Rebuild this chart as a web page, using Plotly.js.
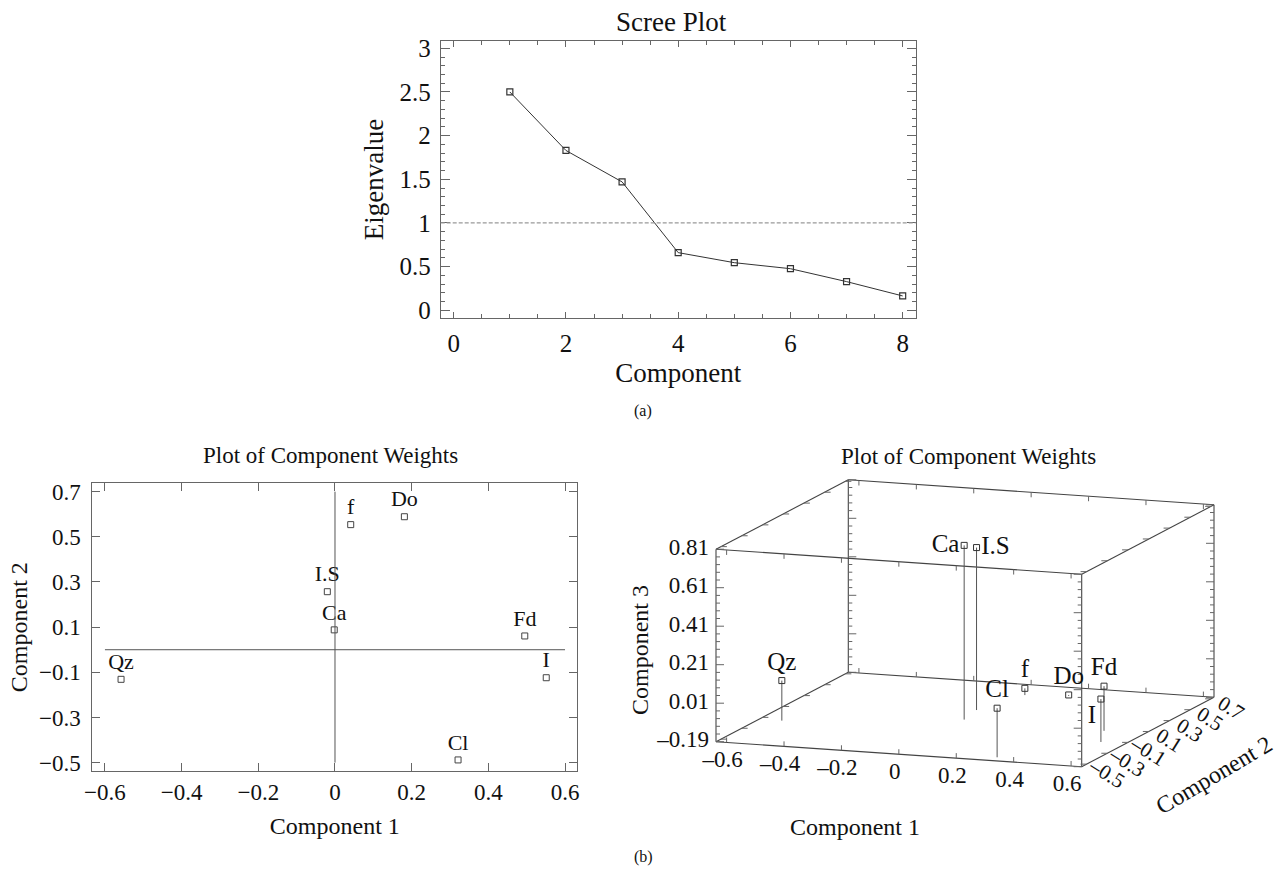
<!DOCTYPE html>
<html>
<head>
<meta charset="utf-8">
<script src="https://cdn.plot.ly/plotly-3.0.1.min.js"></script>
<style>html,body{margin:0;padding:0;background:#fff;}#chart{width:1281px;height:885px;}</style>
</head>
<body>
<div id="chart"></div>
<script>
// ---------------- Data ----------------
const components = [1, 2, 3, 4, 5, 6, 7, 8];
const eigenvalues = [2.50, 1.83, 1.47, 0.66, 0.545, 0.476, 0.328, 0.164];
const kaiserLevel = 1;

const variables = ['Qz', 'I.S', 'Ca', 'f', 'Do', 'Fd', 'I', 'Cl'];
const comp1 = [-0.558, -0.020, -0.002, 0.041, 0.181, 0.495, 0.551, 0.321];
const comp2 = [-0.131, 0.257, 0.088, 0.554, 0.589, 0.061, -0.124, -0.488];
const comp3 = [0.018, 0.654, 0.715, -0.155, -0.185, 0.042, 0.033, 0.065];
const labelPos3d = ['top center', 'middle right', 'middle left', 'top center', 'top center', 'top center', 'bottom left', 'top center'];

const screeXTicks = [0, 2, 4, 6, 8];
const screeYTicks = [0, 0.5, 1, 1.5, 2, 2.5, 3];
const c1Ticks = [-0.6, -0.4, -0.2, 0, 0.2, 0.4, 0.6];
const c2Ticks = [-0.5, -0.3, -0.1, 0.1, 0.3, 0.5, 0.7];
const c3Ticks = [-0.19, 0.01, 0.21, 0.41, 0.61, 0.81];

// ---------------- Style ----------------
const FONT = 'Liberation Serif, Times New Roman, serif';
const INK = '#333';
const FRAME = '#666';

// ---------------- 3D box (oblique projection onto a hidden 2D axis pair) ----------------
const R1 = [-0.637, 0.637], R2 = [-0.547, 0.728], R3 = [-0.19, 0.81];
const WX = 365.7, SX = 25, DX = 132.3, DY = 69.4, H = 192.5; // projection (px)
function proj(x, y, z) {
  const xf = (x - R1[0]) / (R1[1] - R1[0]);
  const yf = (y - R2[0]) / (R2[1] - R2[0]);
  const zf = (z - R3[0]) / (R3[1] - R3[0]);
  return [xf * WX + yf * DX, zf * H - xf * SX + yf * DY];
}
const fmt = v => (v < 0 ? '\u2013' + String(Math.abs(v)) : String(v));

// box edges
const boxU = [], boxV = [];
function seg(a, b) { boxU.push(a[0], b[0], null); boxV.push(a[1], b[1], null); }
for (const y of R2) for (const z of R3) seg(proj(R1[0], y, z), proj(R1[1], y, z));
for (const x of R1) for (const z of R3) seg(proj(x, R2[0], z), proj(x, R2[1], z));
for (const x of R1) for (const y of R2) seg(proj(x, y, R3[0]), proj(x, y, R3[1]));

// ticks on box edges
const tkU = [], tkV = [];
function tick(p, du, dv) { tkU.push(p[0], p[0] + du, null); tkV.push(p[1], p[1] + dv, null); }
const nMinorZ = Math.round((R3[1] - R3[0]) / 0.04);
for (const x of R1) for (const y of R2) {
  const dir = x === R1[0] ? 1 : -1;
  for (let k = 0; k <= nMinorZ; k++) {
    const z = R3[0] + k * 0.04;
    const major = c3Ticks.some(t => Math.abs(t - z) < 1e-6);
    tick(proj(x, y, z), dir * (major ? 8 : 4), 0);
  }
}
for (const y of R2) for (const z of R3) {
  const dir = z === R3[0] ? 1 : -1;
  for (const t of c1Ticks) tick(proj(t, y, z), 0, dir * 5);
}
for (const x of R1) for (const z of R3) {
  const dir = x === R1[0] ? 1 : -1;
  for (const t of c2Ticks) tick(proj(x, t, z), dir * 6, 0);
}

// points and stems
const ptU = [], ptV = [], stU = [], stV = [];
comp1.forEach((x, i) => {
  const p = proj(x, comp2[i], comp3[i]);
  const f = proj(x, comp2[i], R3[0]);
  ptU.push(p[0]); ptV.push(p[1]);
  stU.push(p[0], f[0], null); stV.push(p[1], f[1], null);
});

// tick labels
const zlU = [], zlV = [];
c3Ticks.forEach(t => { const p = proj(R1[0], R2[0], t); zlU.push(p[0] - 7); zlV.push(p[1]); });
const xlU = [], xlV = [];
c1Ticks.forEach(t => { const p = proj(t, R2[0], R3[0]); xlU.push(p[0] - 4); xlV.push(p[1] - 19); });
const yAnn = c2Ticks.map(t => {
  const p = proj(R1[1], t, R3[0]);
  return { xref: 'x3', yref: 'y3', x: p[0] + 20, y: p[1] - 9, text: fmt(t), showarrow: false, textangle: 32,
    font: { family: FONT, size: 21, color: '#111' }, xanchor: 'center', yanchor: 'middle' };
});

const traces = [
  // scree
  { type: 'scatter', x: components, y: eigenvalues, xaxis: 'x', yaxis: 'y', mode: 'lines+markers',
    line: { color: INK, width: 1 }, marker: { symbol: 'square-open', size: 6, color: INK, line: { width: 1.2 } } },
  // 2D weights
  { type: 'scatter', x: comp1, y: comp2, xaxis: 'x2', yaxis: 'y2', mode: 'markers+text', text: variables,
    textposition: 'top center', textfont: { family: FONT, size: 22, color: '#111' },
    marker: { symbol: 'square-open', size: 6, color: '#444', line: { width: 1 } } },
  // 3D box
  { type: 'scatter', x: boxU, y: boxV, xaxis: 'x3', yaxis: 'y3', mode: 'lines', line: { color: '#444', width: 1.1 } },
  { type: 'scatter', x: tkU, y: tkV, xaxis: 'x3', yaxis: 'y3', mode: 'lines', line: { color: '#666', width: 1 } },
  { type: 'scatter', x: stU, y: stV, xaxis: 'x3', yaxis: 'y3', mode: 'lines', line: { color: '#555', width: 1 } },
  { type: 'scatter', x: ptU, y: ptV, xaxis: 'x3', yaxis: 'y3', mode: 'markers+text', text: variables,
    textposition: labelPos3d, textfont: { family: FONT, size: 25, color: '#111' },
    marker: { symbol: 'square-open', size: 6, color: INK, line: { width: 1 } } },
  { type: 'scatter', x: zlU, y: zlV, xaxis: 'x3', yaxis: 'y3', mode: 'text', text: c3Ticks.map(fmt),
    textposition: 'middle left', textfont: { family: FONT, size: 23, color: '#111' } },
  { type: 'scatter', x: xlU, y: xlV, xaxis: 'x3', yaxis: 'y3', mode: 'text', text: c1Ticks.map(fmt),
    textposition: 'middle center', textfont: { family: FONT, size: 23, color: '#111' } }
];

const axBase = {
  showgrid: false, zeroline: false, showline: true, linecolor: FRAME, linewidth: 1, mirror: 'ticks',
  ticks: 'inside', ticklen: 9, tickcolor: FRAME, tickfont: { family: FONT, size: 25, color: '#111' }
};

const layout = {
  width: 1281, height: 885, margin: { l: 0, r: 0, t: 0, b: 0 },
  paper_bgcolor: '#fff', plot_bgcolor: '#fff', showlegend: false, hovermode: false,
  font: { family: FONT, color: '#111' },
  xaxis: Object.assign({}, axBase, {
    domain: [440.7 / 1281, 915.7 / 1281], anchor: 'y', range: [-0.232, 8.232], tickvals: screeXTicks,
    ticklen: 6, minor: { dtick: 0.5, ticks: 'inside', ticklen: 4, tickcolor: FRAME },
    title: { text: 'Component', font: { family: FONT, size: 27 }, standoff: 6 }, ticklabelstandoff: 3
  }),
  yaxis: Object.assign({}, axBase, {
    domain: [1 - 318.3 / 885, 1 - 40.7 / 885], anchor: 'x', range: [-0.092, 3.087], tickvals: screeYTicks,
    minor: { dtick: 0.1, ticks: 'inside', ticklen: 4, tickcolor: FRAME },
    title: { text: 'Eigenvalue', font: { family: FONT, size: 27 }, standoff: 8 }, ticklabelstandoff: 4
  }),
  xaxis2: Object.assign({}, axBase, {
    domain: [92.3 / 1281, 577.3 / 1281], anchor: 'y2', range: [-0.633, 0.632], tickvals: c1Ticks, ticklen: 8,
    tickfont: { family: FONT, size: 23, color: '#111' }, ticklabelstandoff: 0,
    title: { text: 'Component 1', font: { family: FONT, size: 24 }, standoff: 13 }
  }),
  yaxis2: Object.assign({}, axBase, {
    domain: [1 - 771 / 885, 1 - 483.3 / 885], anchor: 'x2', range: [-0.537, 0.737], tickvals: c2Ticks, ticklen: 8,
    tickfont: { family: FONT, size: 23, color: '#111' }, ticklabelstandoff: 6,
    title: { text: 'Component 2', font: { family: FONT, size: 24 }, standoff: 4 }
  }),
  xaxis3: { domain: [600 / 1281, 1], anchor: 'y3', range: [-116, 565], visible: false, fixedrange: true },
  yaxis3: { domain: [1 - 860 / 885, 1 - 440 / 885], anchor: 'x3', range: [-118.3, 301.7], visible: false, fixedrange: true },
  shapes: [
    { type: 'line', xref: 'x domain', yref: 'y', x0: 0, x1: 1, y0: kaiserLevel, y1: kaiserLevel,
      line: { color: '#999', width: 1.3, dash: '4px,2px' } },
    { type: 'line', xref: 'x2', yref: 'y2', x0: c1Ticks[0], x1: c1Ticks[c1Ticks.length - 1], y0: 0, y1: 0,
      line: { color: '#555', width: 1 } },
    { type: 'line', xref: 'x2', yref: 'y2', x0: 0, x1: 0, y0: c2Ticks[0], y1: c2Ticks[c2Ticks.length - 1],
      line: { color: '#555', width: 1 } }
  ],
  annotations: [
    { text: 'Scree Plot', xref: 'paper', yref: 'paper', x: 671.7 / 1281, y: 1 - 21.7 / 885, showarrow: false,
      font: { family: FONT, size: 27 }, xanchor: 'center', yanchor: 'middle' },
    { text: '(a)', xref: 'paper', yref: 'paper', x: 643 / 1281, y: 1 - 411 / 885, showarrow: false,
      font: { family: FONT, size: 16 }, xanchor: 'center', yanchor: 'middle' },
    { text: '(b)', xref: 'paper', yref: 'paper', x: 643 / 1281, y: 1 - 857 / 885, showarrow: false,
      font: { family: FONT, size: 16 }, xanchor: 'center', yanchor: 'middle' },
    { text: 'Plot of Component Weights', xref: 'paper', yref: 'paper', x: 330 / 1281, y: 1 - 455 / 885, showarrow: false,
      font: { family: FONT, size: 23 }, xanchor: 'center', yanchor: 'middle' },
    { text: 'Plot of Component Weights', xref: 'paper', yref: 'paper', x: 969 / 1281, y: 1 - 456.7 / 885, showarrow: false,
      font: { family: FONT, size: 23 }, xanchor: 'center', yanchor: 'middle' },
    { text: 'Component 1', xref: 'paper', yref: 'paper', x: 855 / 1281, y: 1 - 826.7 / 885, showarrow: false,
      font: { family: FONT, size: 24 }, xanchor: 'center', yanchor: 'middle' },
    { text: 'Component 3', xref: 'paper', yref: 'paper', x: 640 / 1281, y: 1 - 650 / 885, showarrow: false, textangle: -90,
      font: { family: FONT, size: 24 }, xanchor: 'center', yanchor: 'middle' },
    { text: 'Component 2', xref: 'paper', yref: 'paper', x: 1214 / 1281, y: 1 - 775 / 885, showarrow: false, textangle: -30.6,
      font: { family: FONT, size: 24 }, xanchor: 'center', yanchor: 'middle' }
  ].concat(yAnn)
};

Plotly.newPlot('chart', traces, layout, { displayModeBar: false, staticPlot: true });
</script>
</body>
</html>
